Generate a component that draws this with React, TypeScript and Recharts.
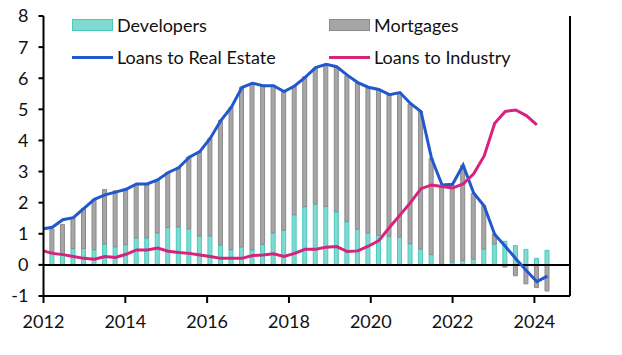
import * as React from "react";
import {
  ComposedChart,
  Bar,
  Line,
  XAxis,
  YAxis,
  ReferenceLine,
} from "recharts";

// ─── Data ─────────────────────────────────────────────────────────────────────

// first line point sits on the left axis, bars start one period later
const START_X = 2012;
const BAR_X0 = 2012.215;
const BAR_STEP = 0.2575;

const DEVELOPERS = [
  0.42, 0.33, 0.53, 0.53, 0.49, 0.67, 0.58, 0.65, 0.87, 0.87,
  1.03, 1.2, 1.22, 1.16, 0.93, 0.93, 0.64, 0.49, 0.58, 0.48,
  0.66, 1.03, 1.12, 1.61, 1.87, 1.96, 1.88, 1.71, 1.39, 1.15,
  1.03, 0.95, 0.92, 0.9, 0.68, 0.51, 0.33, 0.02, 0.1, 0.14,
  0.19, 0.51, 0.67, 0.76, 0.62, 0.5, 0.21, 0.47,
];

const MORTGAGES = [
  0.73, 0.97, 0.97, 1.29, 1.62, 1.75, 1.8, 1.77, 1.71, 1.71,
  1.69, 1.77, 1.92, 2.31, 2.71, 3.14, 4.01, 4.58, 5.13, 5.36,
  5.11, 4.74, 4.45, 4.14, 4.18, 4.37, 4.56, 4.65, 4.69, 4.69,
  4.68, 4.66, 4.55, 4.64, 4.49, 4.42, 3.1, 2.53, 2.45, 3.06,
  2.11, 1.39, 0.32, -0.07, -0.35, -0.61, -0.73, -0.84,
];

const REAL_ESTATE_START = 1.16;
const REAL_ESTATE = [
  1.21, 1.45, 1.52, 1.82, 2.11, 2.25, 2.34, 2.43, 2.6, 2.6,
  2.73, 2.97, 3.12, 3.46, 3.64, 4.07, 4.64, 5.07, 5.7, 5.84,
  5.76, 5.76, 5.57, 5.75, 6.03, 6.34, 6.45, 6.37, 6.1, 5.86,
  5.71, 5.64, 5.47, 5.54, 5.19, 4.93, 3.43, 2.57, 2.59, 3.21,
  2.31, 1.89, 0.98, 0.6, 0.2, -0.18, -0.54, -0.36,
];

const INDUSTRY_START = 0.45;
const INDUSTRY: (number | null)[] = [
  0.37, 0.33, 0.27, 0.21, 0.18, 0.27, 0.24, 0.34, 0.48, 0.48,
  0.54, 0.44, 0.4, 0.37, 0.32, 0.27, 0.21, 0.21, 0.21, 0.3,
  0.32, 0.36, 0.27, 0.37, 0.5, 0.5, 0.57, 0.59, 0.43, 0.45,
  0.6, 0.78, 1.2, 1.6, 2.0, 2.45, 2.57, 2.52, 2.47, 2.6,
  2.93, 3.5, 4.55, 4.93, 4.98, 4.8, 4.5, null,
];

const X_TICKS = [2012, 2014, 2016, 2018, 2020, 2022, 2024];
const Y_TICKS = [-1, 0, 1, 2, 3, 4, 5, 6, 7, 8];

// ─── Styles ───────────────────────────────────────────────────────────────────

const FONT = "Lato, 'Noto Sans', sans-serif";
const TEAL_FILL = "#7fdad1";
const TEAL_EDGE = "#4cc8be";
const GREY_FILL = "#a6a6a6";
const GREY_EDGE = "#8a8a8a";
const BLUE = "#2157cf";
const MAGENTA = "#d6237c";

const rows = [
  { x: START_X, realEstate: REAL_ESTATE_START, industry: INDUSTRY_START },
  ...DEVELOPERS.map((d, i) => ({
    x: BAR_X0 + i * BAR_STEP,
    developers: d,
    mortgages: MORTGAGES[i],
    realEstate: REAL_ESTATE[i],
    industry: INDUSTRY[i],
  })),
];

const LEGEND_ITEMS = [
  { label: "Developers", kind: "bar", fill: TEAL_FILL, edge: TEAL_EDGE, left: 72, top: 25 },
  { label: "Mortgages", kind: "bar", fill: GREY_FILL, edge: GREY_EDGE, left: 329, top: 25 },
  { label: "Loans to Real Estate", kind: "line", fill: BLUE, edge: BLUE, left: 72, top: 57 },
  { label: "Loans to Industry", kind: "line", fill: MAGENTA, edge: MAGENTA, left: 329, top: 57 },
];

function ChartLegend() {
  return (
    <>
      {LEGEND_ITEMS.map((it) => (
        <div
          key={it.label}
          style={{
            position: "absolute",
            left: it.left,
            top: it.top - 12,
            height: 24,
            display: "flex",
            alignItems: "center",
            fontFamily: FONT,
            fontSize: 18,
            color: "#111",
            whiteSpace: "nowrap",
          }}
        >
          {it.kind === "bar" ? (
            <span
              style={{
                display: "inline-block",
                width: 39,
                height: 10,
                background: it.fill,
                border: `1px solid ${it.edge}`,
              }}
            />
          ) : (
            <span style={{ display: "inline-block", width: 41, height: 3, background: it.fill }} />
          )}
          <span style={{ marginLeft: 4 }}>{it.label}</span>
        </div>
      ))}
    </>
  );
}

const tickStyle = { fontFamily: FONT, fontSize: 18, fill: "#111" };
const axisStroke = { stroke: "#000", strokeWidth: 2 };

export default function App() {
  return (
    <div style={{ position: "absolute", left: 0, top: 0, width: 622, height: 355, background: "#fff" }}>
      <ComposedChart
        width={622}
        height={355}
        data={rows}
        stackOffset="sign"
        margin={{ top: 16, right: 0, bottom: 19, left: 0 }}
      >
        <XAxis
          dataKey="x"
          type="number"
          domain={[2012, 2024.87]}
          ticks={X_TICKS}
          allowDataOverflow
          height={40}
          tick={tickStyle}
          tickSize={7}
          tickMargin={12}
          axisLine={axisStroke}
          tickLine={axisStroke}
        />
        <YAxis
          yAxisId="left"
          domain={[-1, 8]}
          ticks={Y_TICKS}
          width={43.5}
          tick={tickStyle}
          tickSize={5}
          tickMargin={10}
          axisLine={axisStroke}
          tickLine={axisStroke}
        />
        <YAxis
          yAxisId="right"
          orientation="right"
          domain={[-1, 8]}
          ticks={Y_TICKS}
          width={52}
          tick={tickStyle}
          tickSize={5}
          tickMargin={12}
          axisLine={axisStroke}
          tickLine={axisStroke}
        />
        <Bar
          yAxisId="left"
          dataKey="developers"
          stackId="loans"
          barSize={4}
          fill={TEAL_FILL}
          stroke={TEAL_EDGE}
          strokeWidth={1}
          isAnimationActive={false}
        />
        <Bar
          yAxisId="left"
          dataKey="mortgages"
          stackId="loans"
          barSize={4}
          fill={GREY_FILL}
          stroke={GREY_EDGE}
          strokeWidth={1}
          isAnimationActive={false}
        />
        <ReferenceLine yAxisId="left" y={0} stroke="#000" strokeWidth={2} />
        <Line
          yAxisId="left"
          dataKey="realEstate"
          type="linear"
          stroke={BLUE}
          strokeWidth={3}
          dot={false}
          isAnimationActive={false}
        />
        <Line
          yAxisId="left"
          dataKey="industry"
          type="linear"
          stroke={MAGENTA}
          strokeWidth={3}
          dot={false}
          isAnimationActive={false}
        />
      </ComposedChart>
      <ChartLegend />
    </div>
  );
}
